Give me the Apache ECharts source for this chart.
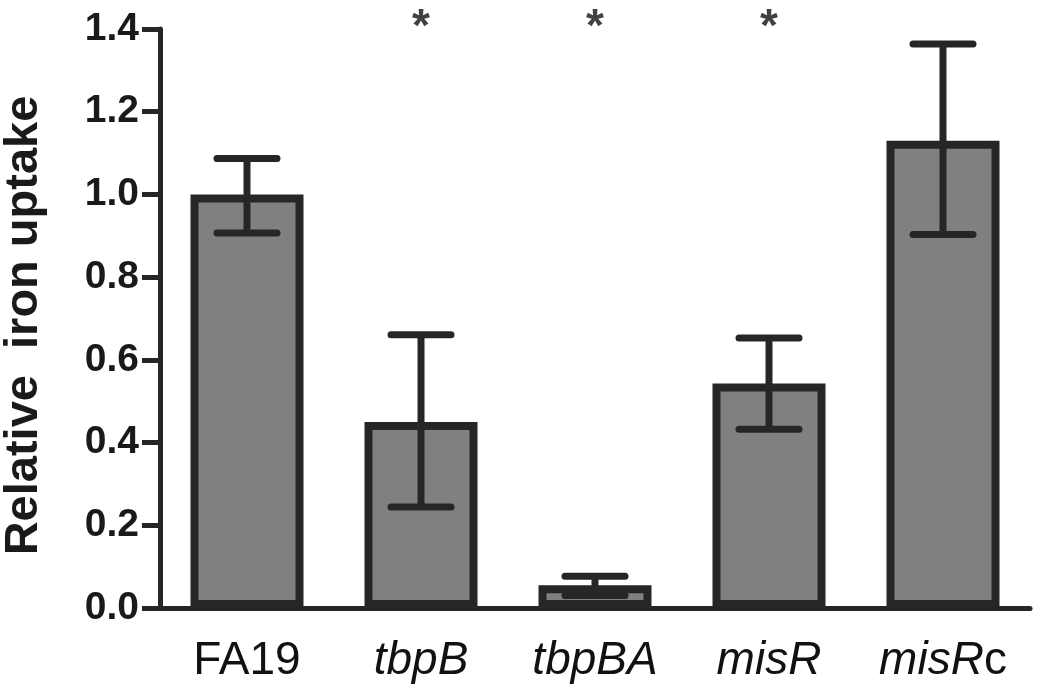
<!DOCTYPE html>
<html>
<head>
<meta charset="utf-8">
<script src="https://cdn.jsdelivr.net/npm/echarts@6/dist/echarts.min.js"></script>
<style>html,body{margin:0;padding:0;background:#fff}#c{width:1050px;height:694px}</style>
</head>
<body>
<div id="c"></div>
<script>
const categories = ['FA19', 'tbpB', 'tbpBA', 'misR', 'misRc'];
const means = [1.0, 0.45, 0.055, 0.543, 1.13];
const errLow = [0.907, 0.244, 0.03, 0.432, 0.903];
const errHigh = [1.087, 0.661, 0.077, 0.653, 1.364];
const significant = [false, true, true, true, false];
const yTicks = [0, 0.2, 0.4, 0.6, 0.8, 1.0, 1.2, 1.4];

const dark = '#262626';
const font = '"Liberation Sans", Arial, Helvetica, sans-serif';

const chart = echarts.init(document.getElementById('c'));
chart.setOption({
  animation: false,
  backgroundColor: '#fff',
  grid: { left: 160, right: 20, top: 29, bottom: 86, containLabel: false, outerBoundsMode: 'none' },
  xAxis: {
    type: 'category',
    data: categories,
    axisLine: { lineStyle: { color: dark, width: 5 } },
    axisTick: { alignWithLabel: true, interval: 0, length: 18, lineStyle: { color: dark, width: 5 } },
    axisLabel: {
      interval: 0,
      margin: 30,
      fontFamily: font,
      fontSize: 46,
      color: '#111',
      formatter: function (v) {
        if (v === 'FA19') return '{n|FA19}';
        if (v === 'misRc') return '{i|misR}{n|c}';
        return '{i|' + v + '}';
      },
      rich: {
        n: { fontFamily: font, fontSize: 46, color: '#111' },
        i: { fontFamily: font, fontSize: 46, fontStyle: 'italic', color: '#111' }
      }
    }
  },
  yAxis: {
    type: 'value',
    min: yTicks[0],
    max: yTicks[yTicks.length - 1],
    interval: 0.2,
    name: 'Relative  iron uptake',
    nameLocation: 'middle',
    nameRotate: 90,
    nameGap: 112,
    nameTextStyle: { fontFamily: font, fontSize: 47, fontWeight: 'bold', color: '#1a1a1a', padding: [0, 14, 0, 0] },
    splitLine: { show: false },
    axisLine: { show: true, lineStyle: { color: dark, width: 5 } },
    axisTick: { show: true, length: 18, lineStyle: { color: dark, width: 5 } },
    axisLabel: {
      margin: 21,
      fontFamily: font,
      fontSize: 39,
      fontWeight: 'bold',
      color: '#1a1a1a',
      formatter: v => v.toFixed(1)
    }
  },
  series: [
    {
      type: 'bar',
      data: means,
      barWidth: 113,
      itemStyle: { color: '#808080', borderColor: dark, borderWidth: 8 },
      z: 2
    },
    {
      type: 'custom',
      z: 3,
      data: categories.map((c, i) => [i, errLow[i], errHigh[i]]),
      renderItem: function (params, api) {
        const x = api.value(0);
        const lo = api.coord([x, api.value(1)]);
        const hi = api.coord([x, api.value(2)]);
        const half = 30;
        const style = { stroke: dark, lineWidth: 7, lineCap: 'round' };
        return {
          type: 'group',
          children: [
            { type: 'line', shape: { x1: lo[0], y1: lo[1], x2: hi[0], y2: hi[1] }, style: { stroke: dark, lineWidth: 7 } },
            { type: 'line', shape: { x1: hi[0] - half, y1: hi[1], x2: hi[0] + half, y2: hi[1] }, style: style },
            { type: 'line', shape: { x1: lo[0] - half, y1: lo[1], x2: lo[0] + half, y2: lo[1] }, style: style }
          ]
        };
      }
    },
    {
      type: 'scatter',
      symbolSize: 0,
      silent: true,
      clip: false,
      data: categories.map((c, i) => significant[i] ? [i, yTicks[yTicks.length - 1]] : null).filter(d => d),
      label: {
        show: true,
        position: 'inside',
        offset: [0, -1],
        formatter: '*',
        fontFamily: font,
        fontSize: 46,
        fontWeight: 'bold',
        color: '#111'
      }
    }
  ]
});
</script>
</body>
</html>
